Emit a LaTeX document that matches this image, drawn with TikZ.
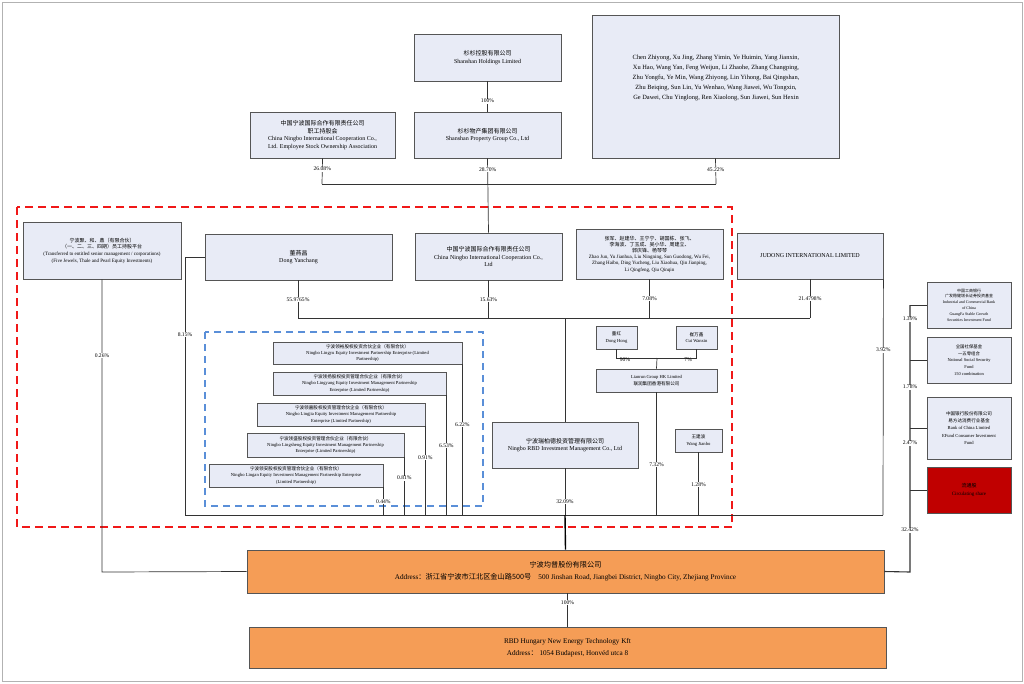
\documentclass[tikz,border=0pt]{standalone}
\usepackage{fontspec}
\setmainfont{Liberation Serif}
\newfontfamily\cjk{Noto Sans CJK SC}
\newcommand\zh[1]{{\cjk #1}}
\definecolor{boxfill}{HTML}{E8EBF6}
\definecolor{boxline}{HTML}{555555}
\definecolor{conn}{HTML}{333333}
\definecolor{orangefill}{HTML}{F59D56}
\definecolor{redfill}{HTML}{C00000}
\definecolor{reddash}{HTML}{F01818}
\definecolor{bluedash}{HTML}{5A8FD8}
\tikzset{
  box/.style={draw=boxline, fill=boxfill, line width=0.8pt, align=center, inner sep=1pt, font=\fontsize{6}{7.6}\selectfont},
  tinybox/.style={box, font=\fontsize{4.6}{6.4}\selectfont},
  sidebox/.style={box, font=\fontsize{4.4}{6.6}\selectfont},
  orangebox/.style={draw=boxline, fill=orangefill, line width=0.8pt, align=center, inner sep=1pt, font=\fontsize{7.2}{12}\selectfont},
  pct/.style={fill=white, inner sep=0.6pt, font=\fontsize{5.6}{6}\selectfont},
  conn/.style={draw=conn, line width=0.7pt},
  thickconn/.style={draw=black, line width=1.4pt},
}
\begin{document}
\begin{tikzpicture}[x=1pt,y=-1pt]
\useasboundingbox (0,0) rectangle (1024,683);
\draw[gray!60, line width=0.6pt] (2,2) rectangle (1022,681);

% dashed groups
\draw[reddash, line width=1.4pt, dash pattern=on 8pt off 5pt] (17,207) rectangle (732,527);
\draw[bluedash, line width=1.2pt, dash pattern=on 7pt off 5pt] (205,332) rectangle (483,506);

% top level
\node[box, minimum width=147pt, minimum height=47pt] (hold) at (487.5,57.5) {\zh{杉杉控股有限公司}\\Shanshan Holdings Limited};
\node[box, minimum width=147pt, minimum height=46pt] (prop) at (487.5,135) {\zh{杉杉物产集团有限公司}\\Shanshan Property Group Co., Ltd};
\node[box, minimum width=145pt, minimum height=46pt] (esoa) at (322.5,135) {\zh{中国宁波国际合作有限责任公司}\\\zh{职工持股会}\\China Ningbo International Cooperation Co.,\\Ltd. Employee Stock Ownership Association};
\node[box, minimum width=247pt, minimum height=143pt] (names) at (715.5,86.5) {};
\node[font=\fontsize{6.4}{10}\selectfont, align=center] (namestext) at (716,78) {Chen Zhiyong, Xu Jing, Zhang Yimin, Ye Huimin, Yang Jianxin,\\Xu Hao, Wang Yan, Feng Weijun, Li Zhaohe, Zhang Changping,\\Zhu Yongfu, Ye Min, Wang Zhiyong, Lin Yihong, Bai Qingshan,\\Zhu Beiqing, Sun Lin, Yu Wenhao, Wang Jiawei, Wu Tongxin,\\Ge Dawei, Chu Yinglong, Ren Xiaolong, Sun Jiawei, Sun Hexin};

% second level (inside red group)
\node[box, minimum width=158pt, minimum height=57pt, font=\fontsize{5}{6.6}\selectfont] (left) at (102,250.5) {\zh{宁波聚、和、鼎（有限合伙）}\\\zh{（一、二、三、四期）员工持股平台}\\(Transferred to entitled senior management / corporations)\\(Five Jewels, Thale and Pearl Equity Investments)};
\node[box, minimum width=187pt, minimum height=46pt] (dong) at (298.5,257) {\zh{董燕昌}\\Dong Yanchang};
\node[box, minimum width=147pt, minimum height=47pt] (cnic) at (488.5,256.5) {\zh{中国宁波国际合作有限责任公司}\\China Ningbo International Cooperation Co.,\\Ltd};
\node[box, minimum width=147pt, minimum height=50pt, font=\fontsize{5}{6.2}\selectfont] (grp) at (649.5,254) {\zh{张军、赵建华、王宁宁、胡国栋、张飞、}\\\zh{李海波、丁玉成、吴小华、周建立、}\\\zh{郭庆锋、杨琴琴}\\Zhao Jun, Yu Jianhua, Liu Ningning, Sun Guodong, Wu Fei,\\Zhang Haibo, Ding Yucheng, Liu Xiaohua, Qin Jianping,\\Li Qingfeng, Qiu Qinqin};
\node[box, minimum width=146pt, minimum height=46pt] (judong) at (810,256) {JUDONG INTERNATIONAL LIMITED};

% blue group
\node[tinybox, minimum width=189pt, minimum height=22pt] (ba) at (367.5,353) {\zh{宁波领裕股权投资合伙企业（有限合伙）}\\Ningbo Lingyu Equity Investment Partnership Enterprise (Limited\\Partnership)};
\node[tinybox, minimum width=173pt, minimum height=23pt] (bb) at (359.5,383.5) {\zh{宁波领扬股权投资管理合伙企业（有限合伙）}\\Ningbo Lingyang Equity Investment Management Partnership\\Enterprise (Limited Partnership)};
\node[tinybox, minimum width=168pt, minimum height=23pt] (bc) at (341,414.5) {\zh{宁波领嘉股权投资管理合伙企业（有限合伙）}\\Ningbo Lingjia Equity Investment Management Partnership\\Enterprise (Limited Partnership)};
\node[tinybox, minimum width=157pt, minimum height=24pt] (bd) at (325.5,445) {\zh{宁波领盛股权投资管理合伙企业（有限合伙）}\\Ningbo Lingsheng Equity Investment Management Partnership\\Enterprise (Limited Partnership)};
\node[tinybox, minimum width=174pt, minimum height=23pt] (be) at (296,475.5) {\zh{宁波领安股权投资管理合伙企业（有限合伙）}\\Ningbo Lingan Equity Investment Management Partnership Enterprise\\(Limited Partnership)};

% middle right
\node[box, minimum width=146pt, minimum height=46pt] (rbd) at (565,445) {\zh{宁波瑞柏德投资管理有限公司}\\Ningbo RBD Investment Management Co., Ltd};
\node[tinybox, minimum width=41pt, minimum height=23pt] (dh) at (616.5,337.5) {\zh{董红}\\Dong Hong};
\node[tinybox, minimum width=41pt, minimum height=23pt] (cw) at (696.5,337.5) {\zh{崔万鑫}\\Cui Wanxin};
\node[tinybox, minimum width=121pt, minimum height=23pt] (lr) at (656.5,380.5) {Lianrun Group HK Limited\\\zh{联润集团香港有限公司}};
\node[tinybox, minimum width=47pt, minimum height=23pt] (wj) at (698.5,440.5) {\zh{王建波}\\Wang Jianbo};

% right column
\node[sidebox, minimum width=84pt, minimum height=46pt, font=\fontsize{4}{5.8}\selectfont] (r1) at (969,305) {\zh{中国工商银行}\\\zh{广发稳健增长证券投资基金}\\Industrial and Commercial Bank\\of China\\GuangFa Stable Growth\\Securities Investment Fund};
\node[sidebox, minimum width=84pt, minimum height=46pt] (r2) at (969,360) {\zh{全国社保基金}\\\zh{一五零组合}\\National Social Security\\Fund\\150 combination};
\node[sidebox, minimum width=84pt, minimum height=62pt, font=\fontsize{4.6}{7.4}\selectfont] (r3) at (969,428) {\zh{中国银行股份有限公司}\\\zh{易方达消费行业基金}\\Bank of China Limited\\EFund Consumer Investment\\Fund};
\node[sidebox, minimum width=84pt, minimum height=46pt, fill=redfill, font=\fontsize{5}{7.4}\selectfont] (r4) at (969,490) {\zh{流通股}\\Circulating share};

% bottom
\node[orangebox, minimum width=637pt, minimum height=43pt] (main) at (565.5,571.5) {\zh{宁波均普股份有限公司}\\Address\zh{：浙江省宁波市江北区金山路500号}\quad 500 Jinshan Road, Jiangbei District, Ningbo City, Zhejiang Province};
\node[orangebox, minimum width=637pt, minimum height=41pt] (hun) at (567.5,647.5) {RBD Hungary New Energy Technology Kft\\Address\zh{：}\ 1054 Budapest, Honvéd utca 8};

% coordinates
\coordinate (topbarL) at (322,184);
\coordinate (topbarR) at (716,184);
\coordinate (midbarL) at (298,318);
\coordinate (midbarR) at (810,318);
\coordinate (busL) at (185,515);
\coordinate (busR) at (883,515);
\coordinate (rcol) at (910,305);
\coordinate (rcolB) at (910,572);
\coordinate (lcolB) at (102,572);

% top connectors
\draw[conn] (hold.south) -- node[pct, pos=0.65]{100\%} (prop.north);
\draw[conn] (esoa.south) -- node[pct, pos=0.42]{26.08\%} (topbarL);
\draw[conn] (names.south) -- node[pct, pos=0.45]{45.22\%} (topbarR);
\draw[conn] (topbarL) -- (topbarR);
\draw[conn] (prop.south) -- node[pct, pos=0.15]{28.70\%} (cnic.north);

% second level connectors
\draw[conn] (dong.south -| midbarL) -- node[pct]{55.9765\%} (midbarL);
\draw[conn] (cnic.south) -- node[pct]{15.63\%} (cnic.south |- midbarL);
\draw[conn] (grp.south) -- node[pct]{7.08\%} (grp.south |- midbarL);
\draw[conn] (judong.south) -- node[pct]{21.4798\%} (midbarR);
\draw[conn] (midbarL) -- (midbarR);
\draw[conn] (rbd.north |- midbarL) -- (rbd.north);
\draw[conn] (rbd.south) -- node[pct, pos=0.72]{32.09\%} (rbd.south |- busL);

% left entity
\draw[conn] (left.south) -- node[pct, pos=0.26]{0.26\%} (lcolB) -- (main.west);

% Dong Yanchang direct
\draw[conn] (dong.west) -- (dong.west -| busL) -- node[pct, pos=0.30]{8.15\%} (busL);

% blue group connectors
\draw[conn] (ba.south east) -- node[pct, pos=0.40]{6.22\%} (ba.south east |- busL);
\draw[conn] (bb.south east) -- node[pct, pos=0.42]{6.53\%} (bb.south east |- busL);
\draw[conn] (bc.south east) -- node[pct, pos=0.35]{0.91\%} (bc.south east |- busL);
\draw[conn] (bd.south east) -- node[pct, pos=0.36]{0.81\%} (bd.south east |- busL);
\draw[conn] (be.south east) -- node[pct, pos=0.50]{0.44\%} (be.south east |- busL);

% Lianrun
\coordinate (lrbar) at (657,358);
\draw[conn] (dh.south) -- (dh.south |- lrbar) -- (cw.south |- lrbar) -- (cw.south);
\node[pct, fill=none] (p90) at (625,360) {90\%};
\node[pct, fill=none] (p7) at (688,360) {7\%};
\draw[conn] (lrbar) -- (lr.north);
\draw[conn] (lr.south) -- node[pct, pos=0.59]{7.32\%} (lr.south |- busL);
\draw[conn] (wj.south) -- node[pct, pos=0.52]{1.28\%} (wj.south |- busL);

% Judong direct
\draw[conn] (judong.south east) -- node[pct, pos=0.30]{3.92\%} (busR);

% bus
\draw[conn] (busL) -- (busR);
\draw[thickconn] (rbd.south |- busL) -- (main.north);

% right column
\draw[conn] (r1.west) -- (rcol);
\draw[conn] (r2.west) -- (r2.west -| rcol);
\draw[conn] (r3.west) -- (r3.west -| rcol);
\draw[conn] (r4.west) -- (r4.west -| rcol);
\draw[conn, line width=1.1pt] (rcol) -- (rcolB) -- (main.east);
\node[pct] (p139) at (910,319) {1.39\%};
\node[pct] (p178) at (910,387) {1.78\%};
\node[pct] (p247) at (910,443) {2.47\%};
\node[pct] (p3242) at (910,530) {32.42\%};

% bottom
\draw[conn] (main.south -| hun.north) -- node[pct, pos=0.27]{100\%} (hun.north);
\end{tikzpicture}
\end{document}
